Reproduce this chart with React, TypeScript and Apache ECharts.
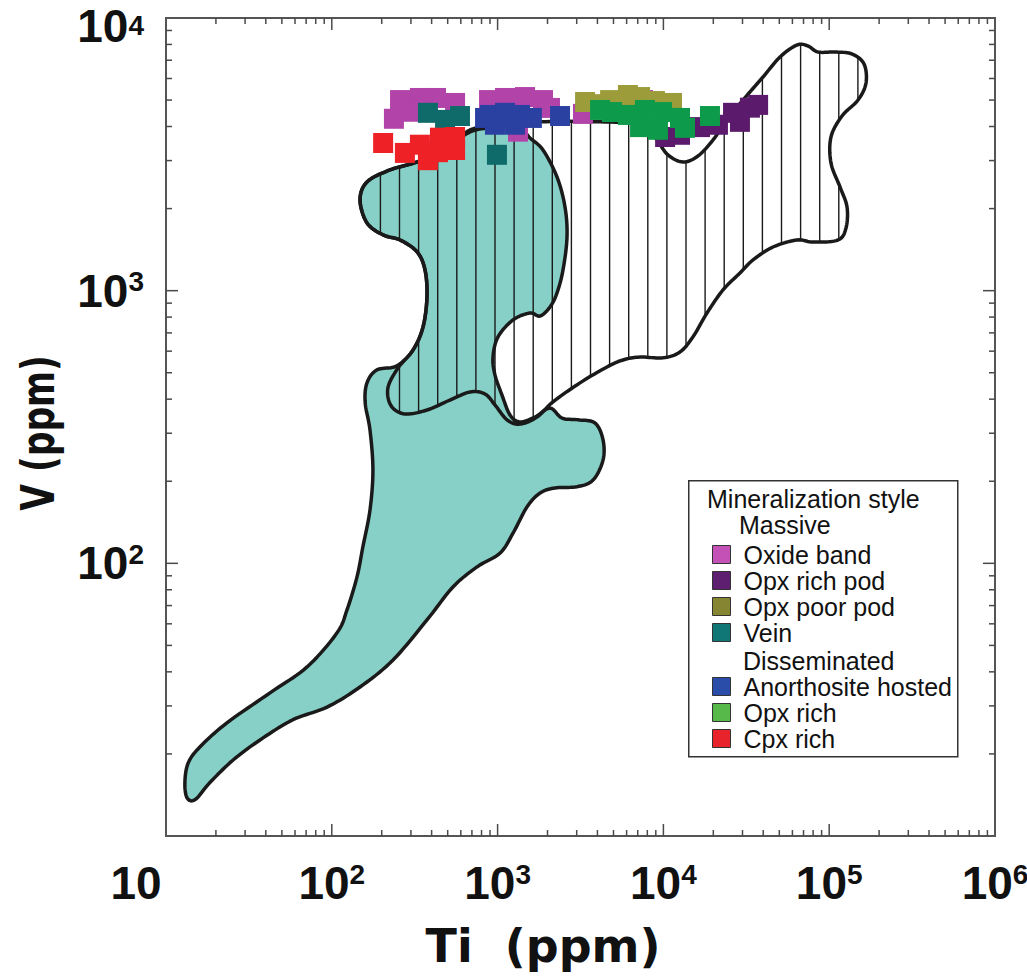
import React, { useEffect, useRef } from "react";
import * as echarts from "echarts";

// ---------- axes ----------
const X_RANGE = [10, 1000000];
const Y_RANGE = [10, 10000];
const X_DECADES = [10, 100, 1000, 10000, 100000];
const Y_DECADES = [10, 100, 1000];
const MINOR_STEPS = [1, 2, 3, 4, 5, 6, 7, 8, 9];
const X_LABEL_VALUES = [10, 100, 1000, 10000, 100000, 1000000];
const X_LABEL_EXPONENTS = ["", "2", "3", "4", "5", "6"];
const Y_LABEL_VALUES = [100, 1000, 10000];
const Y_LABEL_EXPONENTS = ["2", "3", "4"];

// ---------- fields (outline vertices, Ti ppm / V ppm) ----------
const TEAL_FIELD = [
  [13.4, 13.8], [13.0, 15.7], [13.6, 18.5], [16.0, 21.2], [23.3, 26.0], [42.4, 33.5],
  [70.9, 41.7], [107.5, 55.6], [123.5, 67.5], [141.9, 89.2], [154, 115], [170, 157],
  [177, 220], [170, 308], [159, 388], [163, 459], [187, 512], [247, 530], [309, 606],
  [355, 736], [375, 948], [365, 1191], [327, 1387], [258, 1534], [204, 1601], [163, 1772],
  [148, 2151], [163, 2504], [224, 2771], [327, 2964], [482, 3281], [682, 3885],
  [1034, 4052], [1365, 3951], [1568, 3631], [1878, 3281], [2282, 2612], [2550, 2027],
  [2622, 1573], [2480, 1191], [2282, 981], [2070, 871], [1802, 807], [1568, 828],
  [1239, 781], [1006, 677], [938, 571], [964, 491], [1063, 414], [1188, 350], [1365, 330],
  [1681, 344], [2070, 371], [2446, 341], [3054, 336], [3869, 327], [4323, 284], [4323, 239],
  [3763, 202], [3012, 191], [2219, 189], [1802, 181], [1504, 161], [1239, 129], [1034, 109],
  [751, 97.0], [538, 81.9], [375, 62.0], [234, 44.2], [148, 35.2], [93.6, 29.7], [58.3, 26.7],
  [36.9, 22.5], [25.4, 19.0], [18.4, 15.7], [15.0, 13.6],
];

const HATCHED_FIELD = [
  [148, 2151], [163, 2504], [224, 2771], [327, 2964], [482, 3281], [682, 3819], [1034, 4000],
  [1802, 4160], [4146, 4160], [7745, 4050], [9150, 3569], [10660, 3146], [13130, 2964],
  [16170, 3119], [19910, 3569], [24190, 4227], [30210, 5003], [39890, 6076], [50490, 7194],
  [63940, 7962], [74500, 7894], [85610, 7504], [108400, 7504], [137200, 7379], [162200, 6781],
  [166700, 5775], [149200, 5003], [119500, 4372], [102500, 3661], [102500, 2940],
  [116200, 2401], [128100, 2027], [126300, 1698], [113000, 1534], [79850, 1508], [63940, 1534],
  [45810, 1446], [34710, 1296], [28970, 1161], [22880, 1006], [18320, 828], [15080, 677],
  [12590, 596], [9945, 567], [7226, 571], [5706, 557], [4569, 525], [3140, 459], [2158, 391],
  [1728, 344], [1365, 324], [1140, 336], [964, 381], [839, 418], [682, 425], [516, 397],
  [375, 365], [276, 353], [228, 378], [218, 440], [251, 521], [309, 606], [355, 736],
  [375, 948], [365, 1191], [327, 1387], [258, 1534], [204, 1601], [163, 1772],
];

// ---------- samples (Ti ppm, V ppm) ----------
const OXIDE_BAND = [
  [258, 5000], [340, 5090], [425, 5090], [554, 4880], [237, 4270], [296, 4530], [888, 5000],
  [1109, 5090], [1463, 5130], [1878, 5000], [2070, 4680], [1328, 3830], [3272, 4450], [7535, 5000],
];
const OPX_RICH_POD = [
  [26300, 4490], [33260, 4690], [37260, 4800], [28950, 4160], [21330, 4060], [16620, 3980],
  [12590, 3730], [10240, 3660],
];
const OPX_POOR_POD = [
  [3370, 4920], [4150, 4830], [4770, 5000], [6110, 5220], [7230, 5130], [8890, 4960], [11270, 4880],
];
const VEIN = [[380, 4490], [482, 4230], [593, 4370], [991, 3150]];
const ANORTHOSITE_HOSTED = [
  [900, 4410], [1109, 4490], [1365, 4410], [1610, 4300], [964, 4060], [1274, 4060], [2380, 4370], [840, 4300],
];
const OPX_RICH = [
  [4900, 4520], [6110, 4410], [7740, 4600], [9810, 4520], [12590, 4300], [7230, 3980], [9270, 3890],
  [13490, 3955], [19090, 4370], [4150, 4600],
];
const CPX_RICH = [
  [204, 3480], [276, 3200], [340, 3430], [380, 3010], [437, 3220], [449, 3640], [554, 3660], [554, 3280],
];

const MASSIVE_NAMES = ["Oxide band", "Opx rich pod", "Opx poor pod", "Vein"];
const DISSEMINATED_NAMES = ["Anorthosite hosted", "Opx rich", "Cpx rich"];

// draw order (bottom to top)
const SERIES_LIST = [
  { name: "Oxide band", data: OXIDE_BAND, color: "#B243A9", legend: "#C452B6" },
  { name: "Opx poor pod", data: OPX_POOR_POD, color: "#9C9C3A", legend: "#868632" },
  { name: "Opx rich pod", data: OPX_RICH_POD, color: "#5B1A6B", legend: "#5E1F71" },
  { name: "Opx rich", data: OPX_RICH, color: "#0E9A4B", legend: "#58B94B" },
  { name: "Vein", data: VEIN, color: "#0F6B6A", legend: "#117676" },
  { name: "Anorthosite hosted", data: ANORTHOSITE_HOSTED, color: "#2B41A2", legend: "#2B4DAA" },
  { name: "Cpx rich", data: CPX_RICH, color: "#EE2226", legend: "#E8232B" },
];

// ---------- styles ----------
const TEAL = "#86D0C7";
const INK = "#1a1a1a";
const AXIS_INK = "#4a4a4a";
const NUM_FONT = '"Liberation Sans Narrow", "Liberation Sans", sans-serif';
const TITLE_FONT = '"DejaVu Sans", sans-serif';
const LEGEND_FONT = '"Liberation Sans", Arial, sans-serif';
const HATCH_STEP = 19.1;
const HATCH_PHASE = 4.3;

function smoothClosed(pts: number[][], steps: number): number[][] {
  const n = pts.length;
  const out: number[][] = [];
  for (let i = 0; i < n; i++) {
    const p0 = pts[(i - 1 + n) % n], p1 = pts[i], p2 = pts[(i + 1) % n], p3 = pts[(i + 2) % n];
    for (let s = 0; s < steps; s++) {
      const t = s / steps, t2 = t * t, t3 = t2 * t;
      out.push([0, 1].map(
        (k) =>
          0.5 *
          (2 * p1[k] +
            (-p0[k] + p2[k]) * t +
            (2 * p0[k] - 5 * p1[k] + 4 * p2[k] - p3[k]) * t2 +
            (-p0[k] + 3 * p1[k] - 3 * p2[k] + p3[k]) * t3)
      ));
    }
  }
  return out;
}

function hatchLines(poly: number[][], x0: number, step: number) {
  let minX = Infinity, maxX = -Infinity;
  poly.forEach((p) => { minX = Math.min(minX, p[0]); maxX = Math.max(maxX, p[0]); });
  const lines: any[] = [];
  const n = poly.length;
  let k = Math.ceil((minX - x0) / step);
  for (let x = x0 + k * step; x <= maxX; x += step) {
    const ys: number[] = [];
    for (let i = 0; i < n; i++) {
      const a = poly[i], b = poly[(i + 1) % n];
      if ((a[0] <= x && b[0] > x) || (b[0] <= x && a[0] > x)) {
        ys.push(a[1] + ((x - a[0]) * (b[1] - a[1])) / (b[0] - a[0]));
      }
    }
    ys.sort((p, q) => p - q);
    for (let j = 0; j + 1 < ys.length; j += 2) {
      lines.push({
        type: "line",
        shape: { x1: x, y1: ys[j], x2: x, y2: ys[j + 1] },
        style: { stroke: INK, lineWidth: 1.4 },
      });
    }
  }
  return lines;
}

const isDecade = (v: number) => Math.abs(Math.log10(v) - Math.round(Math.log10(v))) < 1e-9;
const X_TICK_VALUES = X_DECADES.flatMap((d) => MINOR_STEPS.map((m) => m * d)).filter(
  (v) => v > X_RANGE[0] && v < X_RANGE[1]
);
const Y_TICK_VALUES = Y_DECADES.flatMap((d) => MINOR_STEPS.map((m) => m * d)).filter(
  (v) => v > Y_RANGE[0] && v < Y_RANGE[1]
);

const numBase = { fontFamily: NUM_FONT, fontWeight: "bold", color: "#111" };
const labelRich = {
  b: { ...numBase, fontSize: 46, lineHeight: 46 },
  sup: { ...numBase, fontSize: 28, lineHeight: 28, verticalAlign: "top" },
  first: { ...numBase, fontSize: 46, lineHeight: 46, padding: [0, 60, 0, 0] },
  bTop: { ...numBase, fontSize: 46, lineHeight: 46, padding: [16, 0, 0, 0] },
  supTop: { ...numBase, fontSize: 28, lineHeight: 28, verticalAlign: "top", padding: [16, 0, 0, 0] },
};

export default function App() {
  const ref = useRef<HTMLDivElement>(null);
  useEffect(() => {
    document.body.style.margin = "0";
    const chart = echarts.init(ref.current!, undefined, { renderer: "svg" });

    const legendItemStyle = { borderColor: "#333", borderWidth: 1 };
    const legendText = {
      fontSize: 25,
      fontFamily: LEGEND_FONT,
      color: "#111",
      lineHeight: 22,
      padding: [0, 0, 0, 8],
    };
    const legendData = (names: string[]) =>
      names.map((n) => {
        const s = SERIES_LIST.find((x) => x.name === n)!;
        return { name: n, itemStyle: { color: s.legend } };
      });
    const legendBase = {
      orient: "vertical",
      left: 712,
      itemWidth: 18,
      itemHeight: 18,
      itemGap: 1,
      icon: "rect",
      selectedMode: false,
      itemStyle: legendItemStyle,
      textStyle: legendText,
      padding: 0,
      z: 20,
    };

    const option: any = {
      animation: false,
      backgroundColor: "#ffffff",
      grid: {
        left: 166,
        top: 18,
        width: 829,
        height: 818,
        show: true,
        borderColor: "#555",
        borderWidth: 2,
        backgroundColor: "transparent",
        outerBoundsMode: "none",
        containLabel: false,
      },
      xAxis: {
        type: "log",
        logBase: 10,
        min: X_RANGE[0],
        max: X_RANGE[1],
        axisLine: { show: false },
        axisTick: { show: false },
        splitLine: { show: false },
        axisLabel: {
          margin: 24,
          rich: labelRich,
          formatter: (v: number) => {
            const i = X_LABEL_VALUES.findIndex((x) => Math.abs(x - v) / x < 1e-6);
            if (i < 0) return "";
            if (i === 0) return "{first|10}";
            return "{b|10}{sup|" + X_LABEL_EXPONENTS[i] + "}";
          },
        },
      },
      yAxis: {
        type: "log",
        logBase: 10,
        min: Y_RANGE[0],
        max: Y_RANGE[1],
        axisLine: { show: false },
        axisTick: { show: false },
        splitLine: { show: false },
        axisLabel: {
          margin: 22,
          rich: labelRich,
          formatter: (v: number) => {
            const i = Y_LABEL_VALUES.findIndex((x) => Math.abs(x - v) / x < 1e-6);
            if (i < 0) return "";
            if (i === Y_LABEL_VALUES.length - 1) return "{bTop|10}{supTop|" + Y_LABEL_EXPONENTS[i] + "}";
            return "{b|10}{sup|" + Y_LABEL_EXPONENTS[i] + "}";
          },
        },
      },
      legend: [
        { ...legendBase, data: legendData(MASSIVE_NAMES), top: 542 },
        { ...legendBase, data: legendData(DISSEMINATED_NAMES), top: 674 },
      ],
      graphic: [
        {
          type: "rect",
          left: 688,
          top: 480,
          shape: { width: 269, height: 276 },
          style: { fill: "#fff", stroke: "#333", lineWidth: 1.5 },
          z: 10,
        },
        {
          type: "text",
          left: 707,
          top: 486,
          style: { text: "Mineralization style", font: "25px " + LEGEND_FONT, fill: "#111" },
          z: 21,
        },
        {
          type: "text",
          left: 739,
          top: 512,
          style: { text: "Massive", font: "25px " + LEGEND_FONT, fill: "#111" },
          z: 21,
        },
        {
          type: "text",
          left: 743,
          top: 648,
          style: { text: "Disseminated", font: "25px " + LEGEND_FONT, fill: "#111" },
          z: 21,
        },
        {
          type: "text",
          x: 543,
          y: 946,
          style: {
            text: "Ti  (ppm)",
            font: "bold 46px " + TITLE_FONT,
            fill: "#111",
            textAlign: "center",
            textVerticalAlign: "middle",
          },
        },
        {
          type: "text",
          x: 38,
          y: 433,
          rotation: Math.PI / 2,
          scaleX: 0.75,
          style: {
            text: "V (ppm)",
            font: "bold 46px " + TITLE_FONT,
            fill: "#111",
            textAlign: "center",
            textVerticalAlign: "middle",
          },
        },
      ],
      series: [
        {
          type: "custom",
          name: "fields",
          silent: true,
          z: 1,
          data: [[1000, 1000]],
          renderItem: (params: any, api: any) => {
            const cs = params.coordSys;
            const teal = smoothClosed(TEAL_FIELD.map((p) => api.coord(p)), 10);
            const hatched = smoothClosed(HATCHED_FIELD.map((p) => api.coord(p)), 10);
            return {
              type: "group",
              children: [
                { type: "polygon", shape: { points: teal }, style: { fill: TEAL, stroke: "none" } },
                ...hatchLines(hatched, cs.x + HATCH_PHASE, HATCH_STEP),
                { type: "polygon", shape: { points: teal }, style: { fill: "none", stroke: INK, lineWidth: 3.5, lineJoin: "round" } },
                { type: "polygon", shape: { points: hatched }, style: { fill: "none", stroke: INK, lineWidth: 3.5, lineJoin: "round" } },
              ],
            };
          },
        },
        ...SERIES_LIST.map((s) => ({
          type: "scatter",
          name: s.name,
          data: s.data,
          symbol: "rect",
          symbolSize: 20,
          itemStyle: { color: s.color, opacity: 1 },
          z: 5,
          silent: true,
        })),
        {
          type: "custom",
          name: "xTicks",
          silent: true,
          z: 8,
          data: X_TICK_VALUES.map((v) => [v, 100]),
          renderItem: (params: any, api: any) => {
            const cs = params.coordSys;
            const v = api.value(0);
            const px = api.coord([v, 100])[0];
            const len = isDecade(v) ? 12 : 6;
            const st = { stroke: AXIS_INK, lineWidth: 1.5 };
            return {
              type: "group",
              children: [
                { type: "line", shape: { x1: px, y1: cs.y + cs.height, x2: px, y2: cs.y + cs.height - len }, style: st },
                { type: "line", shape: { x1: px, y1: cs.y, x2: px, y2: cs.y + len }, style: st },
              ],
            };
          },
        },
        {
          type: "custom",
          name: "yTicks",
          silent: true,
          z: 8,
          data: Y_TICK_VALUES.map((v) => [100, v]),
          renderItem: (params: any, api: any) => {
            const cs = params.coordSys;
            const v = api.value(1);
            const py = api.coord([100, v])[1];
            const len = isDecade(v) ? 12 : 6;
            const st = { stroke: AXIS_INK, lineWidth: 1.5 };
            return {
              type: "group",
              children: [
                { type: "line", shape: { x1: cs.x, y1: py, x2: cs.x + len, y2: py }, style: st },
                { type: "line", shape: { x1: cs.x + cs.width, y1: py, x2: cs.x + cs.width - len, y2: py }, style: st },
              ],
            };
          },
        },
      ],
    };
    chart.setOption(option);
    return () => chart.dispose();
  }, []);
  return <div ref={ref} style={{ width: 1027, height: 977 }} />;
}
